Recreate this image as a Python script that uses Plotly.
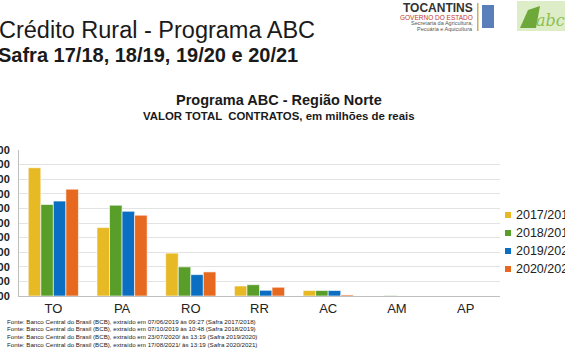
import plotly.graph_objects as go

categories = ["TO", "PA", "RO", "RR", "AC", "AM", "AP"]
series_names = ["2017/2018", "2018/2019", "2019/2020", "2020/2021"]
v_2017 = [175.7, 93.7, 58.7, 13.7, 7.5, 0.0, 0.0]
v_2018 = [125.4, 124.4, 39.9, 15.5, 7.5, 0.6, 0.0]
v_2019 = [130.0, 116.0, 29.3, 7.8, 7.5, 0.0, 0.0]
v_2020 = [146.4, 110.7, 33.0, 12.0, 1.5, 0.0, 0.0]
series_values = [v_2017, v_2018, v_2019, v_2020]
colors = ["#E6B925", "#5A9E2A", "#0A6FC2", "#E6691F"]
y_ticks = list(range(0, 201, 20))
y_ticktext = [f"{v},00" for v in y_ticks]

footnotes = [
    "Fonte: Banco Central do Brasil (BCB), extraído em 07/06/2019 às 09:27 (Safra 2017/2018)",
    "Fonte: Banco Central do Brasil (BCB), extraído em 07/10/2019 às 10:48 (Safra 2018/2019)",
    "Fonte: Banco Central do Brasil (BCB), extraído em 23/07/2020/ às 13:19 (Safra 2019/2020)",
    "Fonte: Banco Central do Brasil (BCB), extraído em 17/08/2021/ às 13:19 (Safra 2020/2021)",
]

W, H = 565, 349
ML, MR, MT, MB = 19, 65, 150, 53
PW, PH = W - ML - MR, H - MT - MB


def px(xp, yp):
    return (xp - ML) / PW, (H - MB - yp) / PH


fig = go.Figure()
for name, vals, col in zip(series_names, series_values, colors):
    fig.add_trace(go.Bar(
        x=categories, y=vals, name=name, showlegend=False,
        marker=dict(color=col, line=dict(color="white", width=0.6)),
    ))

fig.update_layout(
    width=W, height=H,
    margin=dict(l=ML, r=MR, t=MT, b=MB, autoexpand=False),
    paper_bgcolor="white", plot_bgcolor="white",
    barmode="group", bargap=0.27, bargroupgap=0.0,
    font=dict(family="Liberation Sans", color="#222222"),
    showlegend=False,
    xaxis=dict(
        showline=True, linecolor="#BFBFBF", linewidth=1,
        tickfont=dict(size=13, color="#222222"), ticks="",
        fixedrange=True,
    ),
    yaxis=dict(
        range=[0, 200], tickvals=y_ticks, ticktext=y_ticktext,
        showgrid=True, gridcolor="#E3E3E3", gridwidth=1,
        showline=True, linecolor="#BFBFBF", linewidth=1,
        tickfont=dict(size=11, color="#222222", weight="bold"),
        ticks="", ticklabelstandoff=6, zeroline=False,
        automargin=False,
    ),
)

layout_ann = []
shapes = []


def add_text(text, xp, yp, size, color="#1a1a1a", anchor="left", family="Liberation Sans"):
    x, y = px(xp, yp)
    layout_ann.append(dict(
        text=text, x=x, y=y, xref="paper", yref="paper",
        xanchor=anchor, yanchor="middle", showarrow=False,
        font=dict(size=size, color=color, family=family),
    ))


def add_rect(x0, y0, x1, y1, color, opacity=1.0):
    a0, b0 = px(x0, y0)
    a1, b1 = px(x1, y1)
    shapes.append(dict(type="rect", xref="paper", yref="paper",
                       x0=a0, x1=a1, y0=b1, y1=b0,
                       line=dict(width=0), fillcolor=color, opacity=opacity))


add_text("Crédito Rural - Programa ABC", -3, 30, 23.5)
add_text("<b>Safra 17/18, 18/19, 19/20 e 20/21</b>", -4, 55, 20)
add_text("<b>Programa ABC - Região Norte</b>", 279, 100, 14.5, anchor="center")
add_text("<b>VALOR TOTAL  CONTRATOS, em milhões de reais</b>", 279, 116, 11.4, anchor="center")

for i, t in enumerate(footnotes):
    add_text(t, 5, 321 + 7.8 * i, 6.2, color="#222222", family="Liberation Sans")

# legend drawn as markers + labels
for i, (name, col) in enumerate(zip(series_names, colors)):
    yc = 215 + 18 * i
    add_rect(505, yc - 3, 511, yc + 3, col)
    add_text(name, 514, yc, 12.5, color="#222222")

# Tocantins logo
add_text("<b>TOCANTINS</b>", 475, 8, 12, "#333333", anchor="right")
add_text("GOVERNO DO ESTADO", 475, 17, 6.5, "#C0392B", anchor="right")
add_text("Secretaria da Agricultura,", 475, 23, 5.5, "#555555", anchor="right")
add_text("Pecuária e Aquicultura", 475, 29, 5.5, "#555555", anchor="right")
add_rect(477, 3, 478.5, 31, "#C9B25A")
add_rect(482, 5, 494, 28, "#2F5EA8", 0.8)
add_rect(517, 1, 565, 31, "#CFE6B0", 0.7)
p = [px(520, 28), px(528, 10), px(540, 6), px(536, 28)]
shapes.append(dict(type="path", xref="paper", yref="paper",
                   path="M " + " L ".join(f"{a},{b}" for a, b in p) + " Z",
                   line=dict(width=0), fillcolor="#6FA83A"))
add_text("<i>abc</i>", 550, 20, 16, "#8DBF4F", anchor="center", family="DejaVu Serif")

fig.update_layout(annotations=layout_ann, shapes=shapes)
fig.write_html("out.html")
